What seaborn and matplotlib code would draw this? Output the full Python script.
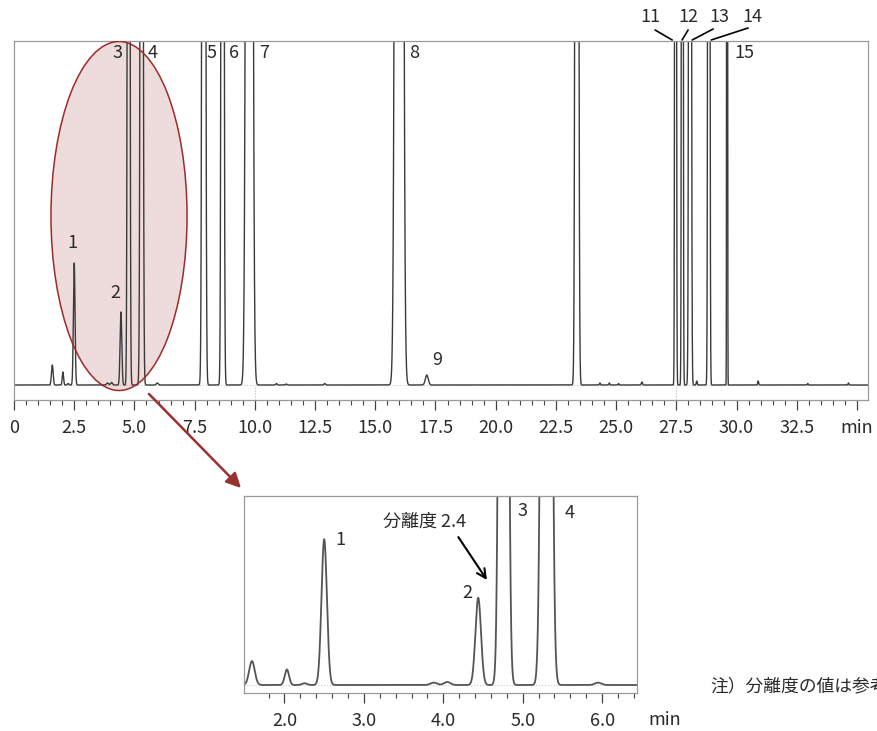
import numpy as np
import pandas as pd
import matplotlib
matplotlib.use("Agg")
import matplotlib.pyplot as plt
from matplotlib.patches import Ellipse
import seaborn as sns

# ---- peak table (retention time [min], height [a.u.], width sigma [min])
peak_rt = [1.59, 2.03, 2.25, 2.50, 3.88, 4.05, 4.44, 4.76, 5.30, 5.95,
           7.88, 8.66, 9.77, 10.9, 11.3, 12.9, 15.99, 17.14, 23.37,
           24.33, 24.72, 25.1, 26.07, 27.47, 27.75, 28.07, 28.35, 28.85,
           29.61, 30.9, 32.96, 34.65]
peak_height = [20, 13, 1.5, 122, 2, 2.5, 73, 2000, 2000, 2,
               3000, 2500, 4000, 1.5, 1, 1.5, 6000, 10, 3000,
               2, 2, 1.5, 3, 3000, 3000, 3000, 4, 3000,
               3000, 4, 1.5, 2]
peak_sigma = [0.035, 0.027, 0.03, 0.034, 0.04, 0.04, 0.035, 0.035, 0.04, 0.04,
              0.045, 0.038, 0.08, 0.03, 0.03, 0.03, 0.09, 0.06, 0.045,
              0.02, 0.02, 0.02, 0.025, 0.022, 0.022, 0.033, 0.02, 0.027,
              0.012, 0.02, 0.02, 0.02]

main_tick_vals = [0, 2.5, 5.0, 7.5, 10.0, 12.5, 15.0, 17.5, 20.0, 22.5, 25.0, 27.5, 30.0, 32.5, 35.0]
main_tick_labels = ["0", "2.5", "5.0", "7.5", "10.0", "12.5", "15.0", "17.5", "20.0",
                    "22.5", "25.0", "27.5", "30.0", "32.5", "min"]
inset_tick_vals = [2.0, 3.0, 4.0, 5.0, 6.0]
inset_tick_labels = ["2.0", "3.0", "4.0", "5.0", "6.0"]

main_labels = ["1", "2", "3", "4", "5", "6", "7", "8", "9", "15"]
main_label_x = [2.41, 4.19, 4.28, 5.77, 8.22, 9.14, 10.38, 16.61, 17.57, 30.32]
main_label_y = [142, 92, 332, 332, 332, 332, 332, 332, 25, 332]

top_labels = ["11", "12", "13", "14"]
top_label_x = [26.43, 28.01, 29.28, 30.67]
leader_start = [(26.62, 355), (27.99, 355), (29.03, 356), (30.48, 357)]
leader_end = [(27.33, 345), (27.74, 345), (28.16, 345), (28.95, 345)]

inset_labels = ["1", "2", "3", "4"]
inset_label_x = [2.70, 4.30, 5.00, 5.59]
inset_label_y = [121, 77, 145.6, 144]

# ---- build the trace
t = np.linspace(0, 35.5, 40000)
sig = np.zeros_like(t)
for rt, h, s in zip(peak_rt, peak_height, peak_sigma):
    sig += h * np.exp(-0.5 * ((t - rt) / s) ** 2)
df = pd.DataFrame({"time": t, "signal": sig})

sns.set_theme(style="white")
plt.rcParams["font.family"] = ["Noto Sans CJK JP", "DejaVu Sans"]

W, H = 877, 731
fig = plt.figure(figsize=(W / 100, H / 100), dpi=100)
txt_col = "#2a2a2a"
frame_col = "#9a9a9a"
fs = 13

# ---------------- main chromatogram
ax = fig.add_axes([14 / W, 1 - 400 / H, (868 - 14) / W, (400 - 41) / H])
ax.axhline(0, color="#c8c8c8", ls=":", lw=0.8, zorder=0.5)
for gx in [10.0, 27.5]:
    ax.plot([gx, gx], [-15, 0], color="#b5b5b5", ls=":", lw=0.8, zorder=0.5)
ax.add_patch(Ellipse((4.36, 169), 5.65, 349, facecolor="#9e2a2a", alpha=0.17,
                     edgecolor="none", zorder=1))
ax.add_patch(Ellipse((4.36, 169), 5.65, 349, facecolor="none", edgecolor="#9e2a2a",
                     lw=1.1, zorder=3))
sns.lineplot(data=df, x="time", y="signal", ax=ax, color="#3a3a3a", lw=1.0,
             estimator=None, sort=False, zorder=2)
ax.set_xlim(0, 35.46)
ax.set_ylim(-15, 344)
ax.set_xlabel("")
ax.set_ylabel("")
ax.set_yticks([])
ax.set_xticks(main_tick_vals)
ax.set_xticklabels(main_tick_labels)
ax.set_xticks(np.arange(0, 35.01, 0.5), minor=True)
ax.tick_params(axis="x", which="major", bottom=True, direction="out", length=7, width=0.9,
               color="#444444", pad=7, labelsize=fs, labelcolor=txt_col)
ax.tick_params(axis="x", which="minor", bottom=True, direction="out", length=3.5, width=0.8,
               color="#444444")
for sp in ax.spines.values():
    sp.set_color(frame_col)
    sp.set_linewidth(0.9)

for lab, lx, ly in zip(main_labels, main_label_x, main_label_y):
    ax.text(lx, ly, lab, ha="center", va="center", fontsize=fs, color=txt_col)
for lab, lx, (x0, y0), (x1, y1) in zip(top_labels, top_label_x, leader_start, leader_end):
    ax.text(lx, 367.5, lab, ha="center", va="center", fontsize=fs, color=txt_col, clip_on=False)
    ax.plot([x0, x1], [y0, y1], color="black", lw=1.2, clip_on=False)

# ---------------- inset zoom
ax2 = fig.add_axes([244 / W, 1 - 693 / H, (637 - 244) / W, (693 - 496) / H])
ax2.axhline(0, color="#c8c8c8", ls=":", lw=0.8, zorder=0.5)
sns.lineplot(data=df, x="time", y="signal", ax=ax2, color="#555555", lw=1.3,
             estimator=None, sort=False, zorder=2)
ax2.set_xlim(1.49, 6.44)
ax2.set_ylim(-6.7, 158.2)
ax2.set_xlabel("")
ax2.set_ylabel("")
ax2.set_yticks([])
ax2.set_xticks(inset_tick_vals)
ax2.set_xticklabels(inset_tick_labels)
ax2.set_xticks(np.arange(1.8, 6.41, 0.2), minor=True)
ax2.tick_params(axis="x", which="major", bottom=True, direction="out", length=7, width=0.9,
                color="#444444", pad=7, labelsize=fs, labelcolor=txt_col)
ax2.tick_params(axis="x", which="minor", bottom=True, direction="out", length=3.5, width=0.8,
                color="#444444")
for sp in ax2.spines.values():
    sp.set_color(frame_col)
    sp.set_linewidth(0.9)
for lab, lx, ly in zip(inset_labels, inset_label_x, inset_label_y):
    ax2.text(lx, ly, lab, ha="center", va="center", fontsize=fs, color=txt_col)
ax2.text(3.24, 136.4, "分離度 2.4", ha="left", va="center", fontsize=13, color=txt_col)
ax2.annotate("", xy=(4.55, 87.9), xytext=(4.19, 123.8),
             arrowprops=dict(arrowstyle="->", color="black", lw=1.5, mutation_scale=16,
                             shrinkA=0, shrinkB=0))

# ---------------- figure-level extras
fig.text(665 / W, 1 - 720 / H, "min", ha="center", va="center", fontsize=fs, color=txt_col)
fig.text(710 / W, 1 - 686 / H, "注）分離度の値は参考値です", ha="left", va="center",
         fontsize=12.8, color=txt_col)
ax.annotate("", xy=(241, H - 488), xytext=(149, H - 394),
            xycoords="figure pixels", textcoords="figure pixels",
            arrowprops=dict(arrowstyle="-|>", color="#9b3030", lw=1.8, mutation_scale=22,
                            shrinkA=0, shrinkB=0), annotation_clip=False)

fig.savefig("out.png", dpi=100, facecolor="white")
